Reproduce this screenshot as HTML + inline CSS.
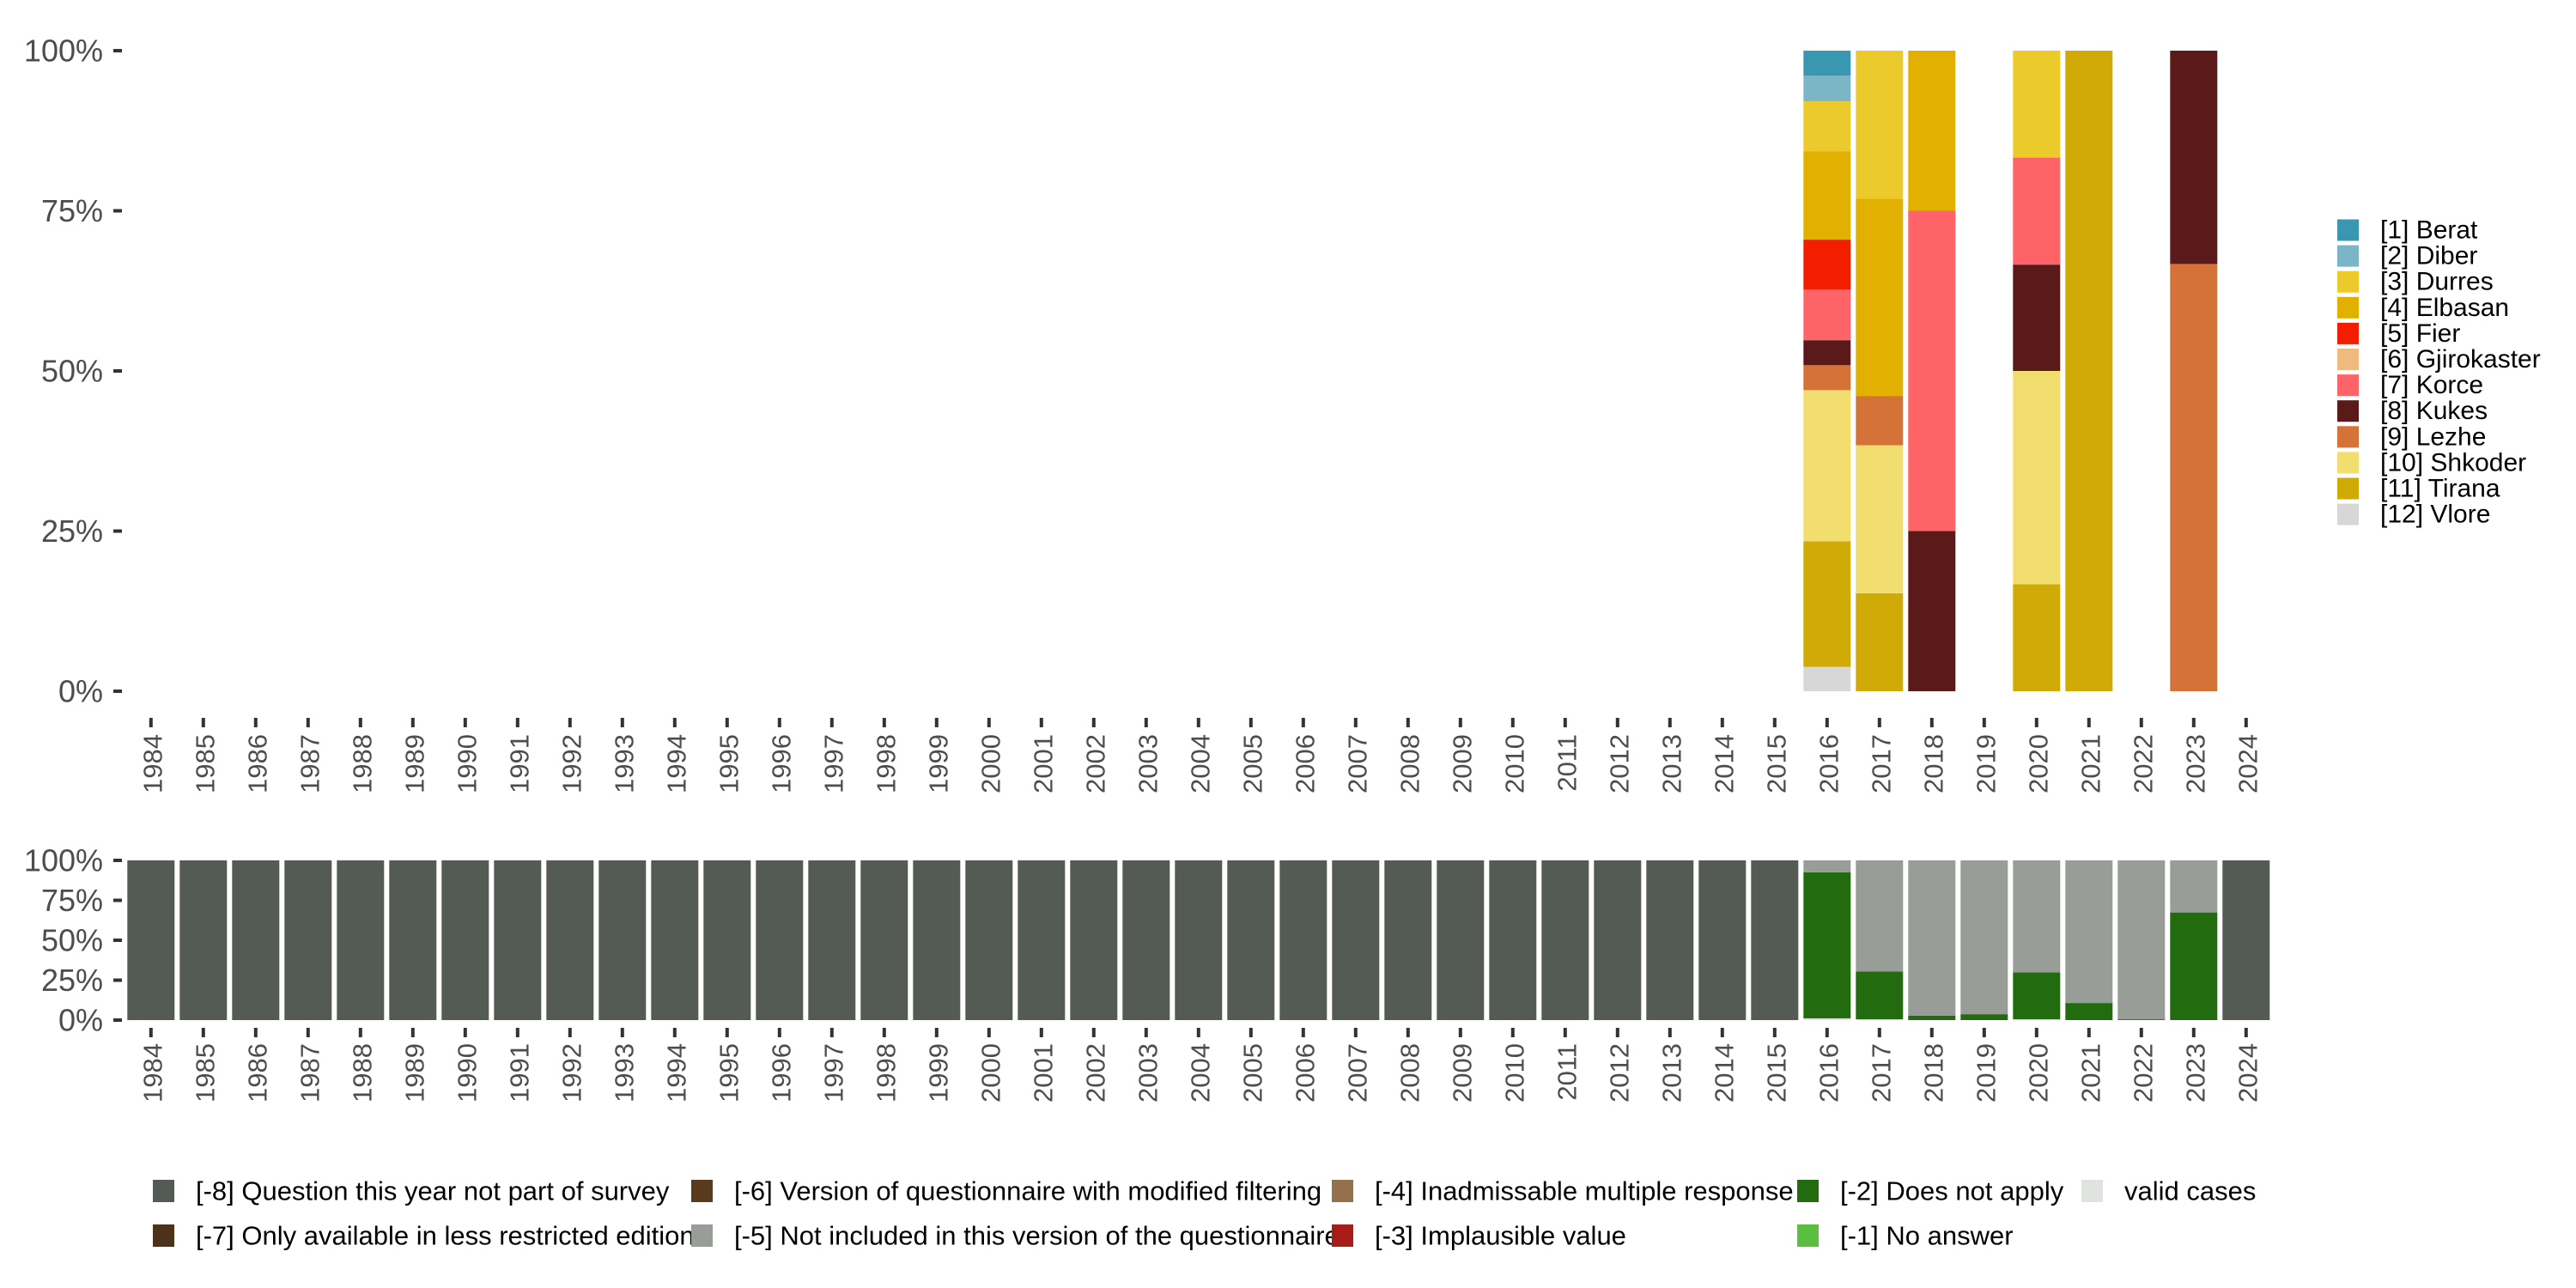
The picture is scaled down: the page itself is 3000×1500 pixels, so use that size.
<!DOCTYPE html>
<html><head><meta charset="utf-8"><style>
html,body{margin:0;padding:0;background:#fff;}
svg{display:block;font-family:"Liberation Sans",sans-serif;}
</style></head><body>
<svg id="chart" width="3000" height="1500" viewBox="0 0 3000 1500" xmlns="http://www.w3.org/2000/svg">
<g id="topPanel"></g>
<g id="bottomPanel"></g>
<g id="leg1"></g>
<g id="leg2"></g>
</svg>
<script>
const years = [];
for (let y = 1984; y <= 2024; y++) years.push(y);
const regionNames = ["[1] Berat","[2] Diber","[3] Durres","[4] Elbasan","[5] Fier","[6] Gjirokaster","[7] Korce","[8] Kukes","[9] Lezhe","[10] Shkoder","[11] Tirana","[12] Vlore"];
const regionColors = ["#3a97b2","#7ab6c5","#ecca2c","#e1b000","#f31d00","#f0b97d","#fe6467","#5a1a1a","#d57238","#f2de6e","#d0ab07","#d7d7d7"];
const regionYears = [2016, 2017, 2018, 2020, 2021, 2023];
const share2016 = [3.9,4.0,7.8,13.8,7.8,0,7.9,3.9,3.9,23.6,19.6,3.8];
const share2017 = [0,0,23.1,30.8,0,0,0,0,7.7,23.1,15.3,0];
const share2018 = [0,0,0,25,0,0,50,25,0,0,0,0];
const share2020 = [0,0,16.7,0,0,0,16.7,16.6,0,33.3,16.7,0];
const share2021 = [0,0,0,0,0,0,0,0,0,0,100,0];
const share2023 = [0,0,0,0,0,0,0,33.3,66.7,0,0,0];
const regionShares = [share2016, share2017, share2018, share2020, share2021, share2023];
const yTickLabels = ["0%","25%","50%","75%","100%"];
const yTickValues = [0,25,50,75,100];

const missNames = ["valid cases","[-1] No answer","[-2] Does not apply","[-3] Implausible value","[-4] Inadmissable multiple response","[-5] Not included in this version of the questionnaire","[-6] Version of questionnaire with modified filtering","[-7] Only available in less restricted edition","[-8] Question this year not part of survey"];
const missColors = ["#e0e3df","#5abf3f","#226b0f","#a81c17","#94714b","#999d97","#5a3a1c","#4c3218","#545b55"];
const validShare = {2016:1.1,2017:0.5,2018:0,2019:0,2020:0.5,2021:0,2022:0,2023:0};
const dnaShare = {2016:91.4,2017:30,2018:2.7,2019:3.7,2020:29.4,2021:10.7,2022:0.5,2023:67.4};

const NS = "http://www.w3.org/2000/svg";
function mk(parent, tag, attrs, text){const e=document.createElementNS(NS,tag);for(const k in attrs)e.setAttribute(k,attrs[k]);if(text!==undefined)e.textContent=text;parent.appendChild(e);return e;}

const band = 61.0, x0 = 175.8, barW = 55;
function xc(year){return x0 + (year-1984)*band;}
function yTop(v){return 805 - v/100*(805-59);}
function yBot(v){return 1188 - v/100*(1188-1002);}

function axes(g, yf, tickTop, labTop){
  yTickValues.forEach((v,i)=>{
    const t = mk(g,'text',{x:120,y:yf(v),'text-anchor':'end','dominant-baseline':'central','font-size':36,fill:'#4d4d4d'},yTickLabels[i]);
    
    
    mk(g,'rect',{x:132,y:yf(v)-2,width:10,height:4,fill:'#333'});
  });
  years.forEach(y=>{
    mk(g,'rect',{x:xc(y)-2,y:tickTop,width:4,height:11,fill:'#333'});
    const t = mk(g,'text',{transform:`translate(${xc(y)+2},${labTop}) rotate(-90)`,'text-anchor':'end','dominant-baseline':'central','font-size':31,fill:'#4d4d4d'},String(y));
    
    
  });
}

const topG = document.getElementById('topPanel');
axes(topG, yTop, 836, 855);
regionYears.forEach((yr,j)=>{
  const sh = regionShares[j];
  let cum = 0;
  for (let i = sh.length-1; i >= 0; i--) {
    if (sh[i] <= 0) continue;
    const r = mk(topG,'rect',{x:xc(yr)-barW/2,y:yTop(cum+sh[i]),width:barW,height:yTop(cum)-yTop(cum+sh[i]),fill:regionColors[i]});
    
    
    cum += sh[i];
  }
});

const botG = document.getElementById('bottomPanel');
axes(botG, yBot, 1197, 1215);
years.forEach(yr=>{
  let vals;
  if (yr in dnaShare) {
    const v = validShare[yr], d = dnaShare[yr];
    vals = [v,0,d,0,0,100-v-d,0,0,0];
  } else vals = [0,0,0,0,0,0,0,0,100];
  let cum = 0;
  vals.forEach((s,i)=>{
    if (s<=0) return;
    const r = mk(botG,'rect',{x:xc(yr)-barW/2,y:yBot(cum+s),width:barW,height:yBot(cum)-yBot(cum+s),fill:missColors[i]});
    
    
    cum += s;
  });
});

const leg1 = document.getElementById('leg1');
regionNames.forEach((n,i)=>{
  const y = 268 + i*30.1;
  const k = mk(leg1,'rect',{x:2722,y:y-12.5,width:25,height:25,fill:regionColors[i]});
  
  
  const t = mk(leg1,'text',{x:2772,y:y,'dominant-baseline':'central','font-size':30,fill:'#000'},n);
  
  
});

const leg2 = document.getElementById('leg2');
const legOrder = [8,6,4,2,0,7,5,3,1];
const colX = [178,805,1551,2093,2424];
legOrder.forEach((idx,k)=>{
  const row = k<5?0:1, col = k<5?k:k-5;
  const y = row===0?1387:1439;
  const s = mk(leg2,'rect',{x:colX[col],y:y-13,width:25,height:26,fill:missColors[idx]});
  
  
  const t = mk(leg2,'text',{x:colX[col]+50,y:y,'dominant-baseline':'central','font-size':31,fill:'#000'},missNames[idx]);
  
  
});
</script>
</body></html>
